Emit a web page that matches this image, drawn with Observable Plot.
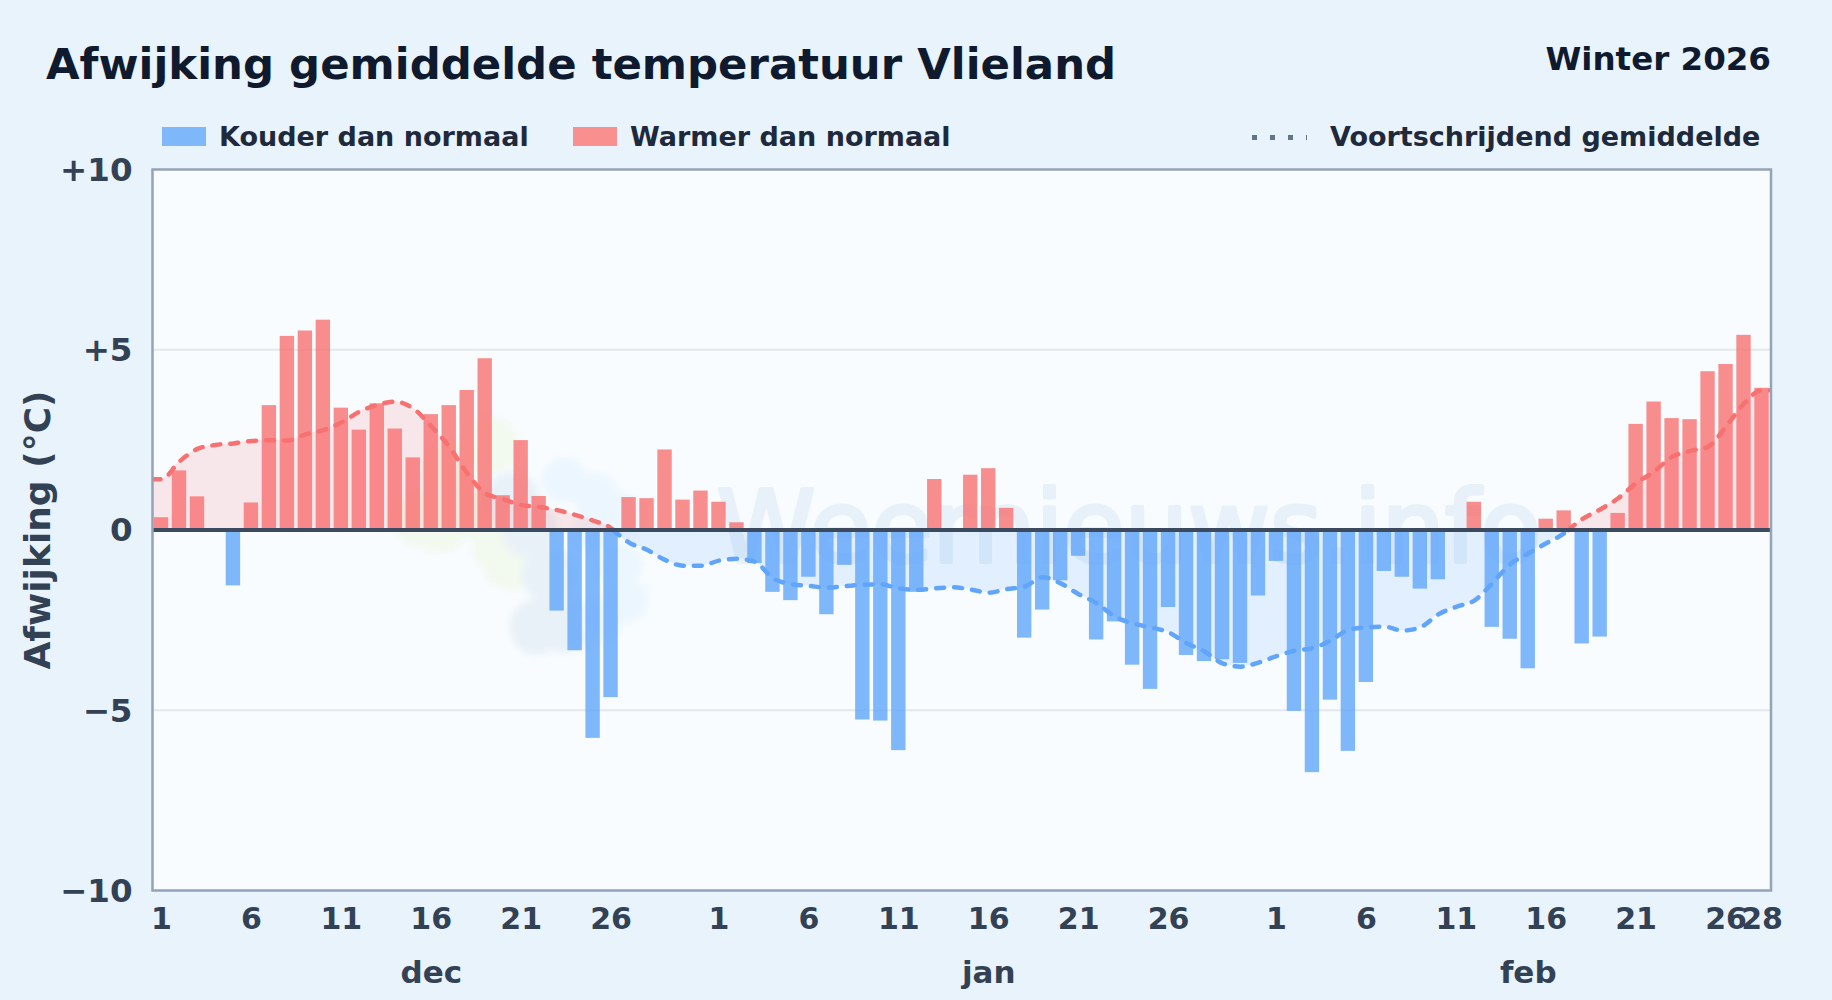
<!DOCTYPE html>
<html lang="nl">
<head>
<meta charset="utf-8">
<script src="https://cdn.jsdelivr.net/npm/d3@7"></script>
<script src="https://cdn.jsdelivr.net/npm/@observablehq/plot@0.6"></script>
<style>
  html, body { margin: 0; padding: 0; background: #e8f3fc; }
  #page { position: relative; width: 1832px; height: 1000px; overflow: hidden; font-family: "DejaVu Sans", sans-serif; font-weight: 700; }
  #head { position: relative; height: 150px; }
  #head > * { position: absolute; white-space: nowrap; }
  #title { left: 46px; top: 36px; font-size: 43.4px; line-height: 56px; color: #0f1a2e; }
  #season { right: 61px; top: 39px; font-size: 32.5px; line-height: 40px; color: #0f1a2e; }
  .swatch { top: 127px; height: 19px; width: 44px; }
  .leg { top: 120px; font-size: 27px; line-height: 34px; color: #1e293b; }
  #dots { left: 1252px; top: 135px; width: 55px; height: 5px; background: repeating-linear-gradient(to right, #64748b 0 5px, transparent 5px 18px); }
  #chart { position: absolute; left: 0; top: 150px; }
  svg { display: block; background: transparent; }
  svg g[aria-label="dot"] { filter: blur(3px); }
</style>
</head>
<body>
<div id="page">
  <div id="head">
    <div id="title">Afwijking gemiddelde temperatuur Vlieland</div>
    <div id="season">Winter 2026</div>
    <div class="swatch" style="left:162px;background:#7fb7fb"></div>
    <div class="leg" style="left:219px">Kouder dan normaal</div>
    <div class="swatch" style="left:573px;background:#f98f8f"></div>
    <div class="leg" style="left:630px">Warmer dan normaal</div>
    <div id="dots"></div>
    <div class="leg" style="left:1330px">Voortschrijdend gemiddelde</div>
  </div>
  <div id="chart"></div>
</div>
<script>
// Daily anomaly in °C, 1 Dec – 28 Feb
const decValues = [0.34,1.64,0.92,0,-1.55,0.75,3.45,5.37,5.52,5.82,3.38,2.77,3.5,2.8,2.0,3.2,3.45,3.87,4.75,0.95,2.48,0.93,-2.25,-3.35,-5.78,-4.65,0.9,0.87,2.22,0.83,1.08];
const janValues = [0.77,0.2,-0.93,-1.73,-1.96,-1.31,-2.35,-0.98,-5.27,-5.3,-6.12,-1.73,1.4,0,1.52,1.7,0.6,-3.0,-2.22,-1.41,-0.73,-3.05,-2.55,-3.75,-4.42,-2.15,-3.48,-3.65,-3.6,-3.7,-1.83];
const febValues = [-0.87,-5.03,-6.73,-4.72,-6.14,-4.23,-1.15,-1.31,-1.64,-1.38,0,0.77,-2.7,-3.03,-3.85,0.3,0.53,-3.16,-2.97,0.46,2.93,3.55,3.09,3.06,4.39,4.59,5.4,3.93];

// Moving average per day
const movingAverage = [1.41,1.9,2.25,2.36,2.4,2.47,2.49,2.48,2.65,2.77,2.98,3.28,3.47,3.56,3.37,2.88,2.31,1.57,1.02,0.86,0.69,0.64,0.55,0.42,0.26,0.05,-0.35,-0.55,-0.83,-0.99,-0.99,
  -0.85,-0.8,-0.88,-1.34,-1.5,-1.55,-1.6,-1.56,-1.52,-1.51,-1.62,-1.66,-1.62,-1.59,-1.65,-1.74,-1.64,-1.57,-1.31,-1.48,-1.78,-2.03,-2.4,-2.59,-2.7,-2.84,-3.14,-3.37,-3.7,-3.79,-3.68,
  -3.5,-3.35,-3.28,-3.07,-2.77,-2.7,-2.68,-2.79,-2.7,-2.34,-2.13,-1.96,-1.48,-0.95,-0.65,-0.37,-0.09,0.3,0.57,0.88,1.3,1.62,2.03,2.19,2.31,2.87,3.51,3.88];

const tickDays = [1,6,11,16,21,26,32,37,42,47,52,57,63,68,73,78,83,88,90];
const tickLabels = ["1","6","11","16","21","26","1","6","11","16","21","26","1","6","11","16","21","26","28"];
const monthDays = [16,47,77];
const monthLabels = ["dec","jan","feb"];
const yTicks = [-10,-5,0,5,10];
const yLabels = ["−10","−5","0","+5","+10"];

// Faint logo behind the chart, [day, anomaly]
const logoGreen = [[15.4,0.28],[16.5,0.14],[17.06,1.66],[19.3,2.36],[18.2,0.55],[19.8,-0.42],[20.4,-0.89]];
const logoGrey = [[21.9,-2.69],[23.4,-2.64],[20.5,0.83],[21.5,0],[22.6,-1.25]];
const logoSky = [[23.4,1.39],[25.1,0.97],[26.5,0.42],[26.8,-1.94],[26.5,-0.97],[25.4,-2.5],[25.1,0]];

const values = [...decValues, ...janValues, ...febValues];
const bars = values.map((v, i) => ({day: i + 1, v}));
const warm = bars.filter(d => d.v > 0);
const cold = bars.filter(d => d.v < 0);

// Split the moving average in runs of one sign; the ends reach the frame
const maPts = [[0.5, movingAverage[0]], ...movingAverage.map((v, i) => [i + 1, v]), [90.5, movingAverage[89]]];
const runs = [];
let seg = 0;
maPts.forEach(([x, y], i) => {
  if (i > 0) {
    const [px, py] = maPts[i - 1];
    if (py * y < 0) {
      const cx = px + (x - px) * py / (py - y);
      runs.push({x: cx, y: 0, seg});
      seg += 1;
      runs.push({x: cx, y: 0, seg});
    }
  }
  runs.push({x, y, seg});
});
const maWarm = runs.filter(d => d.seg % 2 === 0);
const maCold = runs.filter(d => d.seg % 2 === 1);

const red = "#f87171", blue = "#60a5fa", ink = "#334155";
const tickStyle = {fontSize: 30, fontWeight: 700, fill: ink, color: ink};
const dash = {strokeWidth: 4.5, strokeDasharray: "8 10", strokeLinecap: "round", curve: "monotone-x", clip: "frame"};

const plot = Plot.plot({
  width: 1832, height: 850,
  marginTop: 19, marginBottom: 110, marginLeft: 152, marginRight: 61.5,
  style: {background: "transparent", fontFamily: "'DejaVu Sans', sans-serif", overflow: "visible"},
  x: {type: "linear", domain: [0.5, 90.5]},
  y: {domain: [-10, 10]},
  marks: [
    Plot.frame({fill: "#f8fcff", stroke: "none"}),
    Plot.dot(logoGreen, {x: d => d[0], y: d => d[1], r: 28, fill: "#f2f9ef"}),
    Plot.dot(logoGrey, {x: d => d[0], y: d => d[1], r: 28, fill: "#e9f1f8"}),
    Plot.dot(logoSky, {x: d => d[0], y: d => d[1], r: 22, fill: "#ebf6fe"}),
    Plot.text(["Weernieuws.info"], {x: () => 54.8, y: () => 0, text: d => d, fontSize: 100, fontWeight: 400, fill: "#e8f1f9", stroke: "#e8f1f9", strokeWidth: 4, textAnchor: "middle"}),
    Plot.ruleY([-5, 5], {stroke: "#e2e8ec", strokeWidth: 2}),
    Plot.area(maWarm, {x1: "x", y1: () => 0, y2: "y", z: "seg", fill: red, fillOpacity: 0.15, curve: "monotone-x"}),
    Plot.area(maCold, {x1: "x", y1: () => 0, y2: "y", z: "seg", fill: blue, fillOpacity: 0.15, curve: "monotone-x"}),
    Plot.rect(warm, {x1: d => d.day - 0.4, x2: d => d.day + 0.4, y1: () => 0, y2: "v", fill: red, fillOpacity: 0.8}),
    Plot.rect(cold, {x1: d => d.day - 0.4, x2: d => d.day + 0.4, y1: () => 0, y2: "v", fill: blue, fillOpacity: 0.8}),
    Plot.line(maWarm, {x: "x", y: "y", z: "seg", stroke: red, ...dash}),
    Plot.line(maCold, {x: "x", y: "y", z: "seg", stroke: blue, ...dash}),
    Plot.ruleY([0], {stroke: "#3b4a5e", strokeWidth: 4}),
    Plot.frame({stroke: "#94a3b8", strokeWidth: 2.5}),
    Plot.axisY({ticks: yTicks, tickSize: 0, tickPadding: 20, dy: 1, tickFormat: d => yLabels[yTicks.indexOf(d)], label: null, ...tickStyle, fontSize: 32.5}),
    Plot.axisX({ticks: tickDays, tickSize: 0, tickPadding: 17, tickFormat: d => tickLabels[tickDays.indexOf(d)], label: null, ...tickStyle}),
    Plot.axisX({ticks: monthDays, tickSize: 0, tickPadding: 70, tickFormat: d => monthLabels[monthDays.indexOf(d)], label: null, ...tickStyle, fontSize: 31}),
    Plot.text(["Afwijking (°C)"], {frameAnchor: "left", textAnchor: "middle", rotate: -90, dx: -114, text: d => d, fontSize: 36, fontWeight: 700, fill: ink})
  ]
});
document.getElementById("chart").appendChild(plot);
</script>
</body>
</html>
